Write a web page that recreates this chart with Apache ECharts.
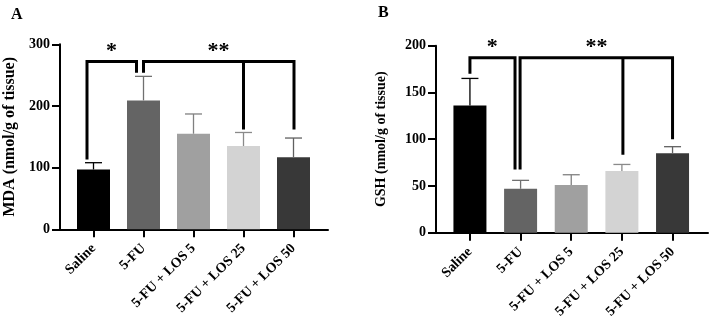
<!DOCTYPE html>
<html>
<head>
<meta charset="utf-8">
<script src="https://cdn.jsdelivr.net/npm/echarts@6/dist/echarts.min.js"></script>
<style>
  html, body { margin: 0; padding: 0; background: #fff; }
  #chart { width: 709px; height: 321px; }
</style>
</head>
<body>
<div id="chart"></div>
<script>
// groups on the x axis
const categories = ["Saline", "5-FU", "5-FU + LOS 5", "5-FU + LOS 25", "5-FU + LOS 50"];
const barColors = ["#000000", "#646464", "#a0a0a0", "#d3d3d3", "#383838"];
const errColors = ["#000000", "#707070", "#808080", "#8a8a8a", "#606060"];

// panel A: MDA
const mdaMean = [97, 209, 155, 135, 117];
const mdaErr = [11, 39, 32, 22, 31];
const mdaTicks = [0, 100, 200, 300];
// significance brackets (x in group index, y in data units)
const mdaBrackets = [
  [[-0.13, 113], [-0.13, 272], [0.86, 272], [0.86, 254]],
  [[1.0, 254], [1.0, 272], [4.01, 272], [4.01, 162]],
  [[3.0, 272], [3.0, 162]]
];
const mdaStars = [[0.36, 289, "*"], [2.5, 289, "**"]];

// panel B: GSH
const gshMean = [136, 47, 51, 66, 85];
const gshErr = [29, 9, 11, 7, 7];
const gshTicks = [0, 50, 100, 150, 200];
const gshBrackets = [
  [[0.0, 170], [0.0, 187], [0.89, 187], [0.89, 67.5]],
  [[0.99, 67.5], [0.99, 187], [4.0, 187], [4.0, 100]],
  [[3.02, 187], [3.02, 83.5]]
];
const gshStars = [[0.44, 198, "*"], [2.5, 198, "**"]];

const FONT = "Liberation Serif";
const chart = echarts.init(document.getElementById("chart"));

function panel(i, mean, err, ticks, yName, nameSize, brackets, stars, capHalf) {
  const xAxis = {
    type: "value",
    gridIndex: i,
    min: -0.67,
    max: 4.69,
    splitLine: { show: false },
    axisLine: { onZero: false, lineStyle: { color: "#000", width: 2 } },
    axisTick: { customValues: [0, 1, 2, 3, 4], length: 8, lineStyle: { color: "#000", width: 2 } },
    axisLabel: {
      customValues: [0, 1, 2, 3, 4],
      formatter: (v) => categories[Math.round(v)],
      rotate: 45,
      margin: 17,
      color: "#000",
      fontFamily: FONT,
      fontWeight: "bold",
      fontSize: 14
    }
  };
  const yAxis = {
    type: "value",
    gridIndex: i,
    min: ticks[0],
    max: ticks[ticks.length - 1],
    interval: ticks[1] - ticks[0],
    name: yName,
    nameLocation: "middle",
    nameGap: 40,
    nameTextStyle: { color: "#000", fontFamily: FONT, fontWeight: "bold", fontSize: nameSize },
    splitLine: { show: false },
    axisLine: { show: true, onZero: false, lineStyle: { color: "#000", width: 2 } },
    axisTick: { show: true, length: 8, lineStyle: { color: "#000", width: 2 } },
    axisLabel: { color: "#000", fontFamily: FONT, fontWeight: "bold", fontSize: 14, margin: 10 }
  };

  const series = [];
  series.push({
    type: "bar",
    xAxisIndex: i,
    yAxisIndex: i,
    barWidth: 33,
    data: mean.map((m, k) => ({ value: [k, m], itemStyle: { color: barColors[k] } }))
  });
  // error bars (upper only)
  series.push({
    type: "custom",
    xAxisIndex: i,
    yAxisIndex: i,
    data: mean.map((m, k) => [k, m, m + err[k]]),
    renderItem: (params, api) => {
      const k = params.dataIndex;
      const base = api.coord([api.value(0), api.value(1)]);
      const top = api.coord([api.value(0), api.value(2)]);
      const st = { stroke: errColors[k], lineWidth: 1.3 };
      return {
        type: "group",
        children: [
          { type: "line", shape: { x1: base[0], y1: base[1], x2: top[0], y2: top[1] }, style: st },
          { type: "line", shape: { x1: top[0] - capHalf, y1: top[1], x2: top[0] + capHalf, y2: top[1] }, style: st }
        ]
      };
    },
    z: 3
  });
  brackets.forEach((b) => {
    series.push({
      type: "line",
      xAxisIndex: i,
      yAxisIndex: i,
      data: b,
      symbol: "none",
      lineStyle: { color: "#000", width: 3, join: "miter", cap: "butt" },
      z: 4
    });
  });
  series.push({
    type: "custom",
    xAxisIndex: i,
    yAxisIndex: i,
    data: stars,
    renderItem: (params, api) => {
      const p = api.coord([api.value(0), api.value(1)]);
      return {
        type: "text",
        x: p[0],
        y: p[1],
        style: {
          text: stars[params.dataIndex][2],
          fill: "#000",
          fontFamily: FONT,
          fontWeight: "bold",
          fontSize: 22,
          align: "center",
          verticalAlign: "middle"
        }
      };
    },
    z: 5
  });
  return { xAxis, yAxis, series };
}

const a = panel(0, mdaMean, mdaErr, mdaTicks, "MDA (nmol/g of tissue)", 16, mdaBrackets, mdaStars, 8.5);
const b = panel(1, gshMean, gshErr, gshTicks, "GSH (nmol/g of tissue)", 14, gshBrackets, gshStars, 8.5);
b.xAxis.max = 4.70;
a.yAxis.nameGap = 42;
b.yAxis.nameGap = 48;

chart.setOption({
  animation: false,
  title: [
    { text: "A", left: 6, top: 2, textStyle: { fontFamily: FONT, fontWeight: "bold", fontSize: 16, color: "#000" } },
    { text: "B", left: 373, top: 0, textStyle: { fontFamily: FONT, fontWeight: "bold", fontSize: 16, color: "#000" } }
  ],
  grid: [
    { left: 60, top: 44.3, width: 268, height: 185 },
    { left: 436, top: 45.7, width: 272, height: 187.6 }
  ],
  xAxis: [a.xAxis, b.xAxis],
  yAxis: [a.yAxis, b.yAxis],
  series: a.series.concat(b.series)
});
</script>
</body>
</html>
